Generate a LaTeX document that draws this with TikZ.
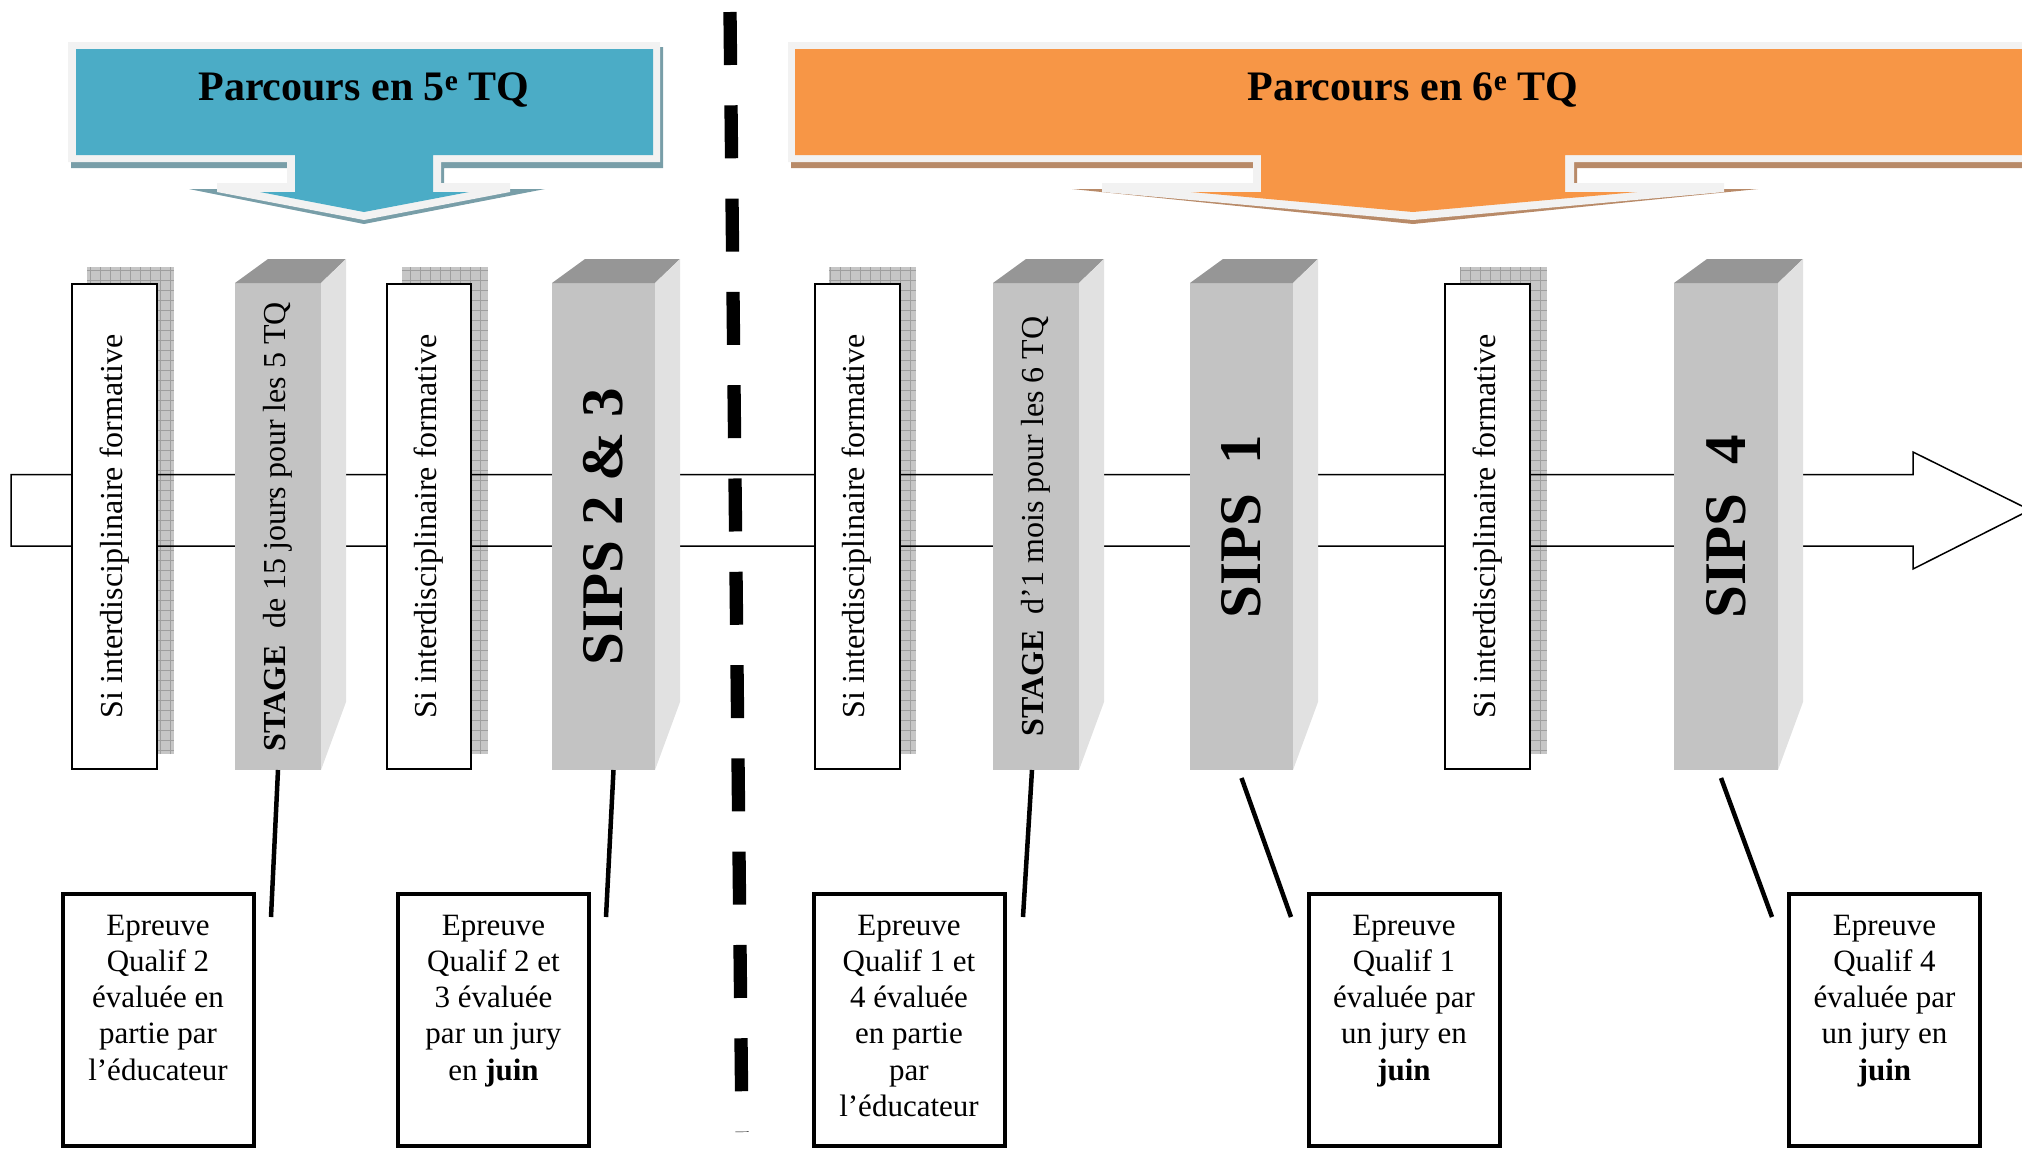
\documentclass[tikz,border=0pt]{standalone}
\usepackage{graphicx}
\usepackage{fontspec}
\setmainfont{Liberation Serif}
\definecolor{aqua}{HTML}{4BACC6}
\definecolor{aquashadow}{RGB}{120,158,168}
\definecolor{peach}{HTML}{F79646}
\definecolor{peachshadow}{RGB}{184,138,104}
\definecolor{rim}{HTML}{F2F2F2}
\definecolor{frontgray}{HTML}{C3C3C3}
\definecolor{topgray}{HTML}{969696}
\definecolor{sidegray}{HTML}{E1E1E1}
\definecolor{hatchgray}{HTML}{C6C6C6}

\begin{document}
\begin{tikzpicture}[x=1pt, y=1pt,
  sibox/.style={draw, line width=2pt, fill=white, minimum height=485pt, inner sep=0pt, outer sep=0pt, font=\fontsize{32}{38}\selectfont},
  prism/.style={fill=frontgray, minimum height=487pt, inner sep=0pt, outer sep=0pt},
  topface/.style={fill=topgray},
  sideface/.style={fill=sidegray},
  boxshadow/.style={fill=hatchgray},
  evalbox/.style={draw, line width=4pt, minimum width=191pt, minimum height=252pt, outer sep=0pt},
  evaltext/.style={anchor=north, align=center, inner sep=0pt, font=\fontsize{31}{36.3}\selectfont},
  pointer/.style={line width=4.5pt},
  title/.style={anchor=base, font=\bfseries\fontsize{42}{50}\selectfont}]
\useasboundingbox (0,0) rectangle (2022,-1149);

% banner 5e
\fill[aquashadow] (71,-47) -- (663,-47) -- (663,-168) -- (444,-168) -- (444,-189) -- (545,-189) -- (364,-224) -- (189,-189) -- (290,-189) -- (290,-168) -- (71,-168) -- cycle;
\fill[rim] (68,-42) -- (660,-42) -- (660,-162) -- (441,-162) -- (441,-183) -- (510,-183) -- (510,-192) -- (364,-220) -- (217,-192) -- (217,-183) -- (287,-183) -- (287,-162) -- (68,-162) -- cycle;
\fill[aqua] (76,-49) -- (653,-49) -- (653,-155) -- (433,-155) -- (433,-192) -- (469,-192) -- (364,-212) -- (260,-192) -- (295,-192) -- (295,-155) -- (76,-155) -- cycle;
\node[title] (tq5) at (364,-100) {Parcours en 5\textsuperscript{e} TQ};

% banner 6e
\fill[peachshadow] (791,-47) -- (2040,-47) -- (2040,-168) -- (1577,-168) -- (1577,-189) -- (1758,-189) -- (1413,-224) -- (1072,-189) -- (1256,-189) -- (1256,-168) -- (791,-168) -- cycle;
\fill[rim] (788,-42) -- (2040,-42) -- (2040,-162) -- (1574,-162) -- (1574,-183) -- (1724,-183) -- (1724,-192) -- (1413,-220) -- (1102,-192) -- (1102,-183) -- (1253,-183) -- (1253,-162) -- (788,-162) -- cycle;
\fill[peach] (795,-49) -- (2040,-49) -- (2040,-155) -- (1565,-155) -- (1565,-192) -- (1637,-192) -- (1413,-212) -- (1191,-192) -- (1261,-192) -- (1261,-155) -- (795,-155) -- cycle;
\node[title] (tq6) at (1413,-100) {Parcours en 6\textsuperscript{e} TQ};

% shadows of the formative boxes
\fill[boxshadow] (87,-267) rectangle (174,-754);
\draw[gray!75, line width=0.6pt, step=10pt] (87,-267) grid (174,-754);
\fill[boxshadow] (402,-267) rectangle (488,-754);
\draw[gray!75, line width=0.6pt, step=10pt] (402,-267) grid (488,-754);
\fill[boxshadow] (829,-267) rectangle (916,-754);
\draw[gray!75, line width=0.6pt, step=10pt] (829,-267) grid (916,-754);
\fill[boxshadow] (1460,-267) rectangle (1547,-754);
\draw[gray!75, line width=0.6pt, step=10pt] (1460,-267) grid (1547,-754);

% time arrow
\draw[line width=1.5pt] (11,-474.5) -- (1913,-474.5) -- (1913,-452) -- (2030,-510) -- (1913,-569) -- (1913,-546) -- (11,-546) -- cycle;

% separator
\draw[line width=13.3pt, dash pattern=on 53pt off 40.3pt] (730,-12) -- (742,-1132);

% formative boxes
\node[sibox, minimum width=85pt] (si1) at (114.5,-526.5) {\rotatebox{90}{Si interdisciplinaire formative}};
\node[sibox, minimum width=84pt] (si2) at (429,-526.5) {\rotatebox{90}{Si interdisciplinaire formative}};
\node[sibox, minimum width=85pt] (si3) at (857,-526.5) {\rotatebox{90}{Si interdisciplinaire formative}};
\node[sibox, minimum width=85pt] (si4) at (1487.5,-526.5) {\rotatebox{90}{Si interdisciplinaire formative}};

% stage and sips blocks
\node[prism, minimum width=86pt, font=\fontsize{32}{38}\selectfont] (stage5) at (278,-526.5) {\rotatebox{90}{\textbf{STAGE}\ \ de 15 jours pour les 5 TQ}};
\fill[topface] (stage5.north west) -- ++(33,24) -- ([shift={(25,24)}]stage5.north east) -- (stage5.north east) -- cycle;
\fill[sideface] (stage5.north east) -- ++(25,24) -- ([shift={(25,68)}]stage5.south east) -- (stage5.south east) -- cycle;

\node[prism, minimum width=103pt, font=\bfseries\fontsize{59}{66}\selectfont] (sips23) at (603.5,-526.5) {\rotatebox{90}{SIPS 2 \& 3}};
\fill[topface] (sips23.north west) -- ++(33,24) -- ([shift={(25,24)}]sips23.north east) -- (sips23.north east) -- cycle;
\fill[sideface] (sips23.north east) -- ++(25,24) -- ([shift={(25,68)}]sips23.south east) -- (sips23.south east) -- cycle;

\node[prism, minimum width=86pt, font=\fontsize{32}{38}\selectfont] (stage6) at (1036,-526.5) {\rotatebox{90}{\textbf{STAGE}\ \ d’1 mois pour les 6 TQ}};
\fill[topface] (stage6.north west) -- ++(33,24) -- ([shift={(25,24)}]stage6.north east) -- (stage6.north east) -- cycle;
\fill[sideface] (stage6.north east) -- ++(25,24) -- ([shift={(25,68)}]stage6.south east) -- (stage6.south east) -- cycle;

\node[prism, minimum width=103pt, font=\bfseries\fontsize{59}{66}\selectfont] (sips1) at (1241.5,-526.5) {\rotatebox{90}{SIPS\ \ 1}};
\fill[topface] (sips1.north west) -- ++(33,24) -- ([shift={(25,24)}]sips1.north east) -- (sips1.north east) -- cycle;
\fill[sideface] (sips1.north east) -- ++(25,24) -- ([shift={(25,68)}]sips1.south east) -- (sips1.south east) -- cycle;

\node[prism, minimum width=104pt, font=\bfseries\fontsize{59}{66}\selectfont] (sips4) at (1726,-526.5) {\rotatebox{90}{SIPS\ \ 4}};
\fill[topface] (sips4.north west) -- ++(33,24) -- ([shift={(25,24)}]sips4.north east) -- (sips4.north east) -- cycle;
\fill[sideface] (sips4.north east) -- ++(25,24) -- ([shift={(25,68)}]sips4.south east) -- (sips4.south east) -- cycle;

% evaluation boxes
\node[evalbox] (evA) at (158,-1020) {};
\node[evaltext] (txA) at ([yshift=-20.5]evA.north) {Epreuve\\Qualif 2\\évaluée en\\partie par\\l’éducateur};
\node[evalbox] (evB) at (493.5,-1020) {};
\node[evaltext] (txB) at ([yshift=-20.5]evB.north) {Epreuve\\Qualif 2 et\\3 évaluée\\par un jury\\en \textbf{juin}};
\node[evalbox] (evC) at (909,-1020) {};
\node[evaltext] (txC) at ([yshift=-20.5]evC.north) {Epreuve\\Qualif 1 et\\4 évaluée\\en partie\\par\\l’éducateur};
\node[evalbox] (evD) at (1404,-1020) {};
\node[evaltext] (txD) at ([yshift=-20.5]evD.north) {Epreuve\\Qualif 1\\évaluée par\\un jury en\\\textbf{juin}};
\node[evalbox] (evE) at (1884.5,-1020) {};
\node[evaltext] (txE) at ([yshift=-20.5]evE.north) {Epreuve\\Qualif 4\\évaluée par\\un jury en\\\textbf{juin}};

% pointers
\coordinate (pA) at (271,-917);
\coordinate (pB) at (606,-917);
\coordinate (pC) at (1023,-917);
\coordinate (pD) at (1291,-917);
\coordinate (pE) at (1772,-917);
\draw[pointer] (stage5.south) -- (pA);
\draw[pointer] ([xshift=10]sips23.south) -- (pB);
\draw[pointer] ([xshift=-4]stage6.south) -- (pC);
\draw[pointer] ([yshift=-8]sips1.south) -- (pD);
\draw[pointer] ([xshift=-5,yshift=-8]sips4.south) -- (pE);

\end{tikzpicture}
\end{document}
